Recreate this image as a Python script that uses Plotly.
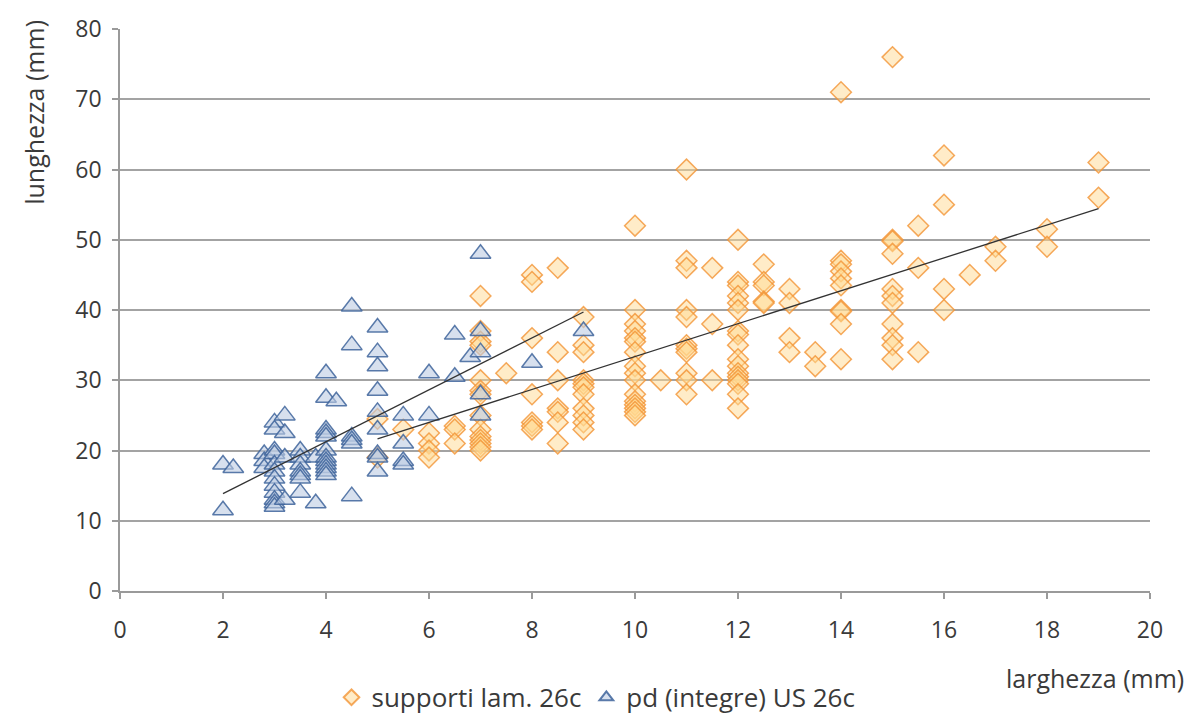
import numpy as np
import plotly.graph_objects as go

# supporti lam. 26c (larghezza, lunghezza)
sup_x = ([5]*2 + [5.5] + [6]*4 + [6.5]*3 + [7]*14 + [7.5] + [8]*7 + [8.5]*7 + [9]*11 +
         [10]*16 + [10.5] + [11]*11 + [11.5]*3 + [12]*17 + [12.5]*5 + [13]*4 + [13.5]*2 +
         [14]*10 + [15]*11 + [15.5]*3 + [16]*4 + [16.5] + [17]*2 + [18]*2 + [19]*2)
sup_y = [24.5, 19,
         23,
         22.5, 21, 20, 19,
         23.5, 23, 21,
         42, 37, 35.5, 35, 30, 28.5, 28, 25, 23, 22, 21.5, 21, 20.5, 20,
         31,
         45, 44, 36, 28, 24, 23.5, 23,
         46, 34, 30, 26, 25.5, 24, 21,
         39, 35, 34, 30, 29.5, 29, 28, 26, 25, 24, 23,
         52, 40, 38, 37, 36, 35.5, 34, 32, 31, 30, 28, 27, 26.5, 26, 25.5, 25,
         30,
         60, 47, 46, 40, 39, 35, 34.5, 34, 31, 30, 28,
         46, 38, 30,
         50, 44, 43.5, 42, 41, 40, 37, 36.5, 35, 33, 32, 31, 30.5, 30, 29.5, 28, 26,
         46.5, 44, 43.5, 41.2, 41,
         43, 41, 36, 34,
         34, 32,
         71, 47, 46.5, 45.5, 44.5, 43.5, 40, 39.8, 38, 33,
         76, 50, 49.8, 48, 43, 42, 41, 38, 36, 35, 33,
         52, 46, 34,
         62, 55, 43, 40,
         45,
         49, 47,
         51.5, 49,
         61, 56]

# pd (integre) US 26c
pd_x = ([2]*2 + [2.2] + [2.8]*3 + [3]*12 + [3.2]*4 + [3.5]*7 + [3.8]*2 + [4]*12 + [4.2] +
        [4.5]*6 + [5]*9 + [5.5]*4 + [6]*2 + [6.5]*2 + [6.8] + [7]*5 + [8] + [9])
pd_y = [18, 11.5,
        17.5,
        19.5, 18.5, 17.5,
        24, 23, 20, 19.5, 18, 17, 16, 15, 14, 13, 12.5, 12,
        25, 22.5, 19, 13,
        20, 19, 18, 17, 16.5, 16, 14,
        12.5, 19,
        31, 27.5, 23, 22.5, 22, 20, 19, 18.5, 18, 17.5, 17, 16.5,
        27,
        40.5, 35, 22, 21.5, 21, 13.5,
        37.5, 34, 32, 28.5, 25.5, 23, 19.5, 19, 17,
        25, 21, 18.5, 18,
        31, 25,
        36.5, 30.5,
        33.3,
        48, 37, 34, 28, 25,
        32.5,
        37]

x_ticks = list(range(0, 21, 2))
y_ticks = list(range(0, 81, 10))

FONT = "Open Sans"
TXT = "#3a3a3a"

fig = go.Figure()

fig.add_trace(go.Scatter(
    x=sup_x, y=sup_y, mode="markers", name="supporti lam. 26c",
    marker=dict(symbol="diamond", size=16,
                color="rgba(255,218,145,0.5)",
                line=dict(color="rgba(243,148,52,0.8)", width=1.5)),
))
fig.add_trace(go.Scatter(
    x=pd_x, y=pd_y, mode="markers", name="pd (integre) US 26c",
    marker=dict(symbol="triangle-up", size=18,
                color="rgba(188,204,226,0.6)",
                line=dict(color="rgba(62,100,155,0.85)", width=1.5)),
))

# linear trendlines
for xs, ys in ((sup_x, sup_y), (pd_x, pd_y)):
    xa, ya = np.array(xs, float), np.array(ys, float)
    m, q = np.polyfit(xa, ya, 1)
    lx = np.array([xa.min(), xa.max()])
    fig.add_trace(go.Scatter(x=lx, y=m * lx + q, mode="lines", showlegend=False,
                             hoverinfo="skip", line=dict(color="#333333", width=1.3)))

fig.update_layout(
    width=1192, height=716,
    margin=dict(l=120, r=42, t=25, b=125),
    paper_bgcolor="white", plot_bgcolor="white",
    font=dict(family=FONT, size=23, color=TXT),
    showlegend=True,
    legend=dict(orientation="h", xref="container", yref="container",
                x=0.5, xanchor="center", y=0.026, yanchor="middle",
                font=dict(family=FONT, size=26, color=TXT),
                itemsizing="constant", traceorder="normal"),
    xaxis=dict(range=[0, 20], tickvals=x_ticks, showgrid=False, zeroline=False,
               showline=True, linecolor="#9a9a9a", linewidth=1.5,
               ticks="outside", ticklen=6, tickcolor="#9a9a9a", tickwidth=1.5,
               ticklabelstandoff=12,
               tickfont=dict(family=FONT, size=23, color=TXT)),
    yaxis=dict(range=[0, 80], tickvals=y_ticks, showgrid=True, gridcolor="#a3a3a3",
               gridwidth=1.5, zeroline=False,
               showline=True, linecolor="#9a9a9a", linewidth=1.5,
               ticks="outside", ticklen=6, tickcolor="#9a9a9a", tickwidth=1.5,
               ticklabelstandoff=6,
               tickfont=dict(family=FONT, size=23, color=TXT)),
    annotations=[
        dict(text="larghezza (mm)", xref="paper", yref="paper", x=1.035, y=-0.155,
             xanchor="right", yanchor="middle", showarrow=False,
             font=dict(family=FONT, size=25, color=TXT)),
        dict(text="lunghezza (mm)", xref="paper", yref="paper", x=-0.083, y=1.02,
             xanchor="center", yanchor="top", textangle=-90, showarrow=False,
             font=dict(family=FONT, size=25, color=TXT)),
    ],
)

fig.write_html("out.html")
